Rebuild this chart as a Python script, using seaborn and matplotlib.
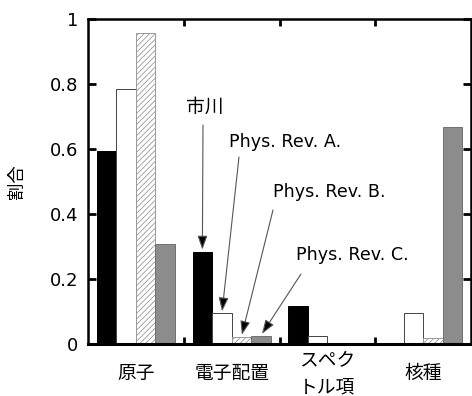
import matplotlib
matplotlib.use("Agg")
import matplotlib.pyplot as plt
import seaborn as sns
import pandas as pd
import numpy as np

# ---- data ----
categories = ["原子", "電子配置", "スペクトル項", "核種"]
category_labels = ["原子", "電子配置", "スペク\nトル項", "核種"]
sources = ["市川", "Phys. Rev. A.", "Phys. Rev. B.", "Phys. Rev. C."]
ichikawa = [0.594, 0.284, 0.117, 0.0]
phys_rev_a = [0.784, 0.094, 0.025, 0.094]
phys_rev_b = [0.956, 0.022, 0.0, 0.019]
phys_rev_c = [0.308, 0.026, 0.0, 0.668]
y_ticks = [0, 0.2, 0.4, 0.6, 0.8, 1]
y_tick_labels = ["0", "0.2", "0.4", "0.6", "0.8", "1"]

series = [ichikawa, phys_rev_a, phys_rev_b, phys_rev_c]
rows = []
for src, vals in zip(sources, series):
    for cat, v in zip(categories, vals):
        rows.append({"category": cat, "source": src, "value": v})
df = pd.DataFrame(rows)

sns.set_style("ticks")
plt.rcParams["font.family"] = ["DejaVu Sans", "Noto Sans CJK JP"]
plt.rcParams["hatch.color"] = "#9a9a9a"
plt.rcParams["hatch.linewidth"] = 0.6
plt.rcParams["text.color"] = "black"
plt.rcParams["xtick.color"] = "black"
plt.rcParams["ytick.color"] = "black"
plt.rcParams["axes.edgecolor"] = "black"
plt.rcParams["axes.labelcolor"] = "black"

fig = plt.figure(figsize=(4.72, 3.96), dpi=100)
ax = fig.add_axes([88 / 472, 1 - 344 / 396, (471 - 88) / 472, (344 - 19) / 396])

palette = {sources[0]: "black", sources[1]: "white", sources[2]: "white", sources[3]: "#8c8c8c"}
sns.barplot(data=df, x="category", y="value", hue="source", order=categories,
            hue_order=sources, palette=palette, width=0.815, gap=0,
            saturation=1, legend=False, ax=ax)

edge_colors = ["black", "#444444", "#9a9a9a", "#707070"]
hatches = [None, None, "//////", None]
for cont, ec, h in zip(ax.containers, edge_colors, hatches):
    for bar in cont:
        bar.set_edgecolor(ec)
        bar.set_linewidth(0.7)
        if h:
            bar.set_hatch(h)

ax.set_xlim(-0.5, 3.5)
ax.set_ylim(0, 1)
ax.set_yticks(y_ticks)
ax.set_yticklabels(y_tick_labels, fontsize=13)
ax.tick_params(axis="y", direction="in", length=6, width=2, left=True, right=True,
               labelright=False, pad=7)

ax.set_xticks(range(len(categories)))
ax.set_xticklabels(category_labels, fontsize=13.5, va="center", linespacing=1.35,
                   family=["Noto Sans CJK JP", "DejaVu Sans"])
ax.tick_params(axis="x", which="major", length=0, pad=21)
ax.set_xticks([0.5, 1.5, 2.5], minor=True)
ax.tick_params(axis="x", which="minor", direction="in", length=5, width=2,
               top=True, bottom=True)

for s in ax.spines.values():
    s.set_linewidth(1.8)
    s.set_visible(True)
    s.set_color("black")
ax.spines["bottom"].set_linewidth(2.2)

ax.set_xlabel("")
ax.set_ylabel("割合", fontsize=12.5, family=["Noto Sans CJK JP", "DejaVu Sans"])
ax.yaxis.set_label_coords(-62 / 383, 0.5)

# ---- annotations ----
def px2data(px, py):
    return ((px - 88) / 95.75 - 0.5, (344 - py) / 325)

text_pos = [(205, 107), (285, 142), (329, 192), (352, 255)]
arrow_start = [(203, 125), (239, 157), (273, 210), (301, 274)]
for i, src in enumerate(sources):
    bar = ax.containers[i][1]
    target = (bar.get_x() + bar.get_width() / 2, bar.get_height())
    tx, ty = px2data(*text_pos[i])
    if i == 0:
        ax.text(tx, ty, src, ha="center", va="center", fontsize=13.5,
                family=["Noto Sans CJK JP", "DejaVu Sans"])
    else:
        ax.text(tx, ty, src, ha="center", va="center", fontsize=12.6,
                family=["DejaVu Sans", "Noto Sans CJK JP"])
    ax.annotate("", xy=target, xytext=px2data(*arrow_start[i]),
                arrowprops=dict(arrowstyle="-|>,head_length=0.7,head_width=0.25",
                                fc="black", ec="#555555", lw=0.8,
                                shrinkA=0, shrinkB=1.5, mutation_scale=12))

fig.savefig("out.png", dpi=100)
